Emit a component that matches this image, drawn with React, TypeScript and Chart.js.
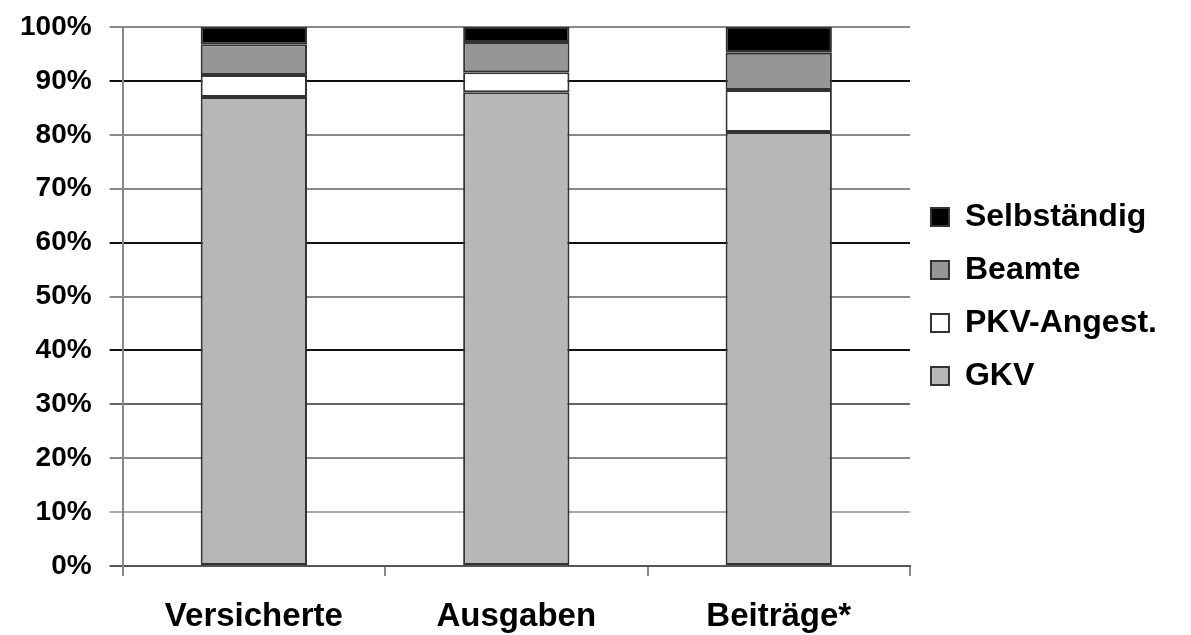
import React, { useEffect, useRef } from "react";
import { Chart, registerables } from "chart.js";

Chart.register(...registerables);

// Categories on the x axis
const categories = ["Versicherte", "Ausgaben", "Beiträge*"];

// Shares in percent per group (stacked from bottom to top)
const gkv = [87.0, 87.9, 80.5];
const pkvAngest = [4.1, 3.7, 7.8];
const beamte = [5.7, 5.6, 6.9];
const selbstaendig = [3.2, 2.8, 4.8];

// Y axis ticks (percent)
const yTicks = [0, 10, 20, 30, 40, 50, 60, 70, 80, 90, 100];

// Horizontal grid line shades, bottom to top
const gridShades = ["#555", "#aaa", "#888", "#666", "#111", "#888", "#111", "#888", "#888", "#111", "#888"];

const FONT = "'Liberation Sans', Arial, sans-serif";

export default function App() {
  const canvasRef = useRef<HTMLCanvasElement | null>(null);

  useEffect(() => {
    document.body.style.margin = "0";
    const canvas = canvasRef.current;
    if (!canvas) return;

    const seg = (label: string, data: number[], color: string) => ({
      label,
      data,
      backgroundColor: color,
      borderColor: "#333",
      borderWidth: 2,
      borderSkipped: false as const,
      barPercentage: 0.405,
      categoryPercentage: 1.0,
    });

    const chart = new Chart(canvas, {
      type: "bar",
      data: {
        labels: categories,
        datasets: [
          seg("GKV", gkv, "#b7b7b7"),
          seg("PKV-Angest.", pkvAngest, "#ffffff"),
          seg("Beamte", beamte, "#969696"),
          seg("Selbständig", selbstaendig, "#000000"),
        ],
      },
      options: {
        animation: false,
        responsive: true,
        maintainAspectRatio: false,
        layout: { padding: { left: 2, top: 27, right: 24, bottom: -22 } },
        plugins: {
          tooltip: { enabled: false },
          legend: {
            position: "right",
            fullSize: false,
            reverse: true,
            labels: {
              color: "#000",
              font: { family: FONT, size: 32, weight: "bold" },
              boxWidth: 18,
              boxHeight: 18,
              padding: 21,
            },
          },
        },
        scales: {
          x: {
            stacked: true,
            grid: {
              offset: true,
              drawOnChartArea: false,
              drawTicks: true,
              tickLength: 10,
              color: "#888",
              lineWidth: 2,
            },
            border: { display: true, color: "#555", width: 2 },
            ticks: {
              color: "#000",
              padding: 24,
              font: { family: FONT, size: 33, weight: "bold", lineHeight: 1 },
            },
          },
          y: {
            stacked: true,
            min: 0,
            max: 100,
            afterBuildTicks: (scale: any) => {
              scale.ticks = yTicks.map((v) => ({ value: v }));
            },
            // keep the end labels' half height as the only vertical padding
            afterFit: (scale: any) => {
              scale.paddingTop = 0;
              scale.paddingBottom = 0;
            },
            grid: {
              color: (ctx: any) => gridShades[ctx.index] ?? "#888",
              lineWidth: 2,
              tickLength: 13,
            },
            border: { display: true, color: "#888", width: 2 },
            ticks: {
              color: "#000",
              padding: 18,
              font: { family: FONT, size: 28, weight: "bold" },
              callback: (v: any) => `${v}%`,
            },
          },
        },
      },
    });

    return () => chart.destroy();
  }, []);

  return (
    <div style={{ position: "relative", width: "1191px", height: "635px", background: "#fff" }}>
      <canvas ref={canvasRef} />
    </div>
  );
}
